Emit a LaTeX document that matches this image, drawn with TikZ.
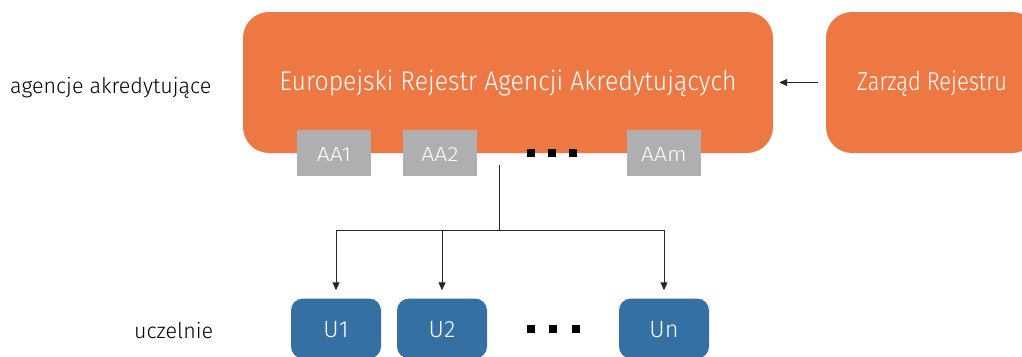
\documentclass[tikz,border=0pt]{standalone}
\usepackage{fontspec}
\setmainfont{Fira Sans}[UprightFont=* Light]
\newfontfamily\condA{Fira Sans}[UprightFont=* Light, FakeStretch=0.92]
\newfontfamily\condB{Fira Sans}[UprightFont=* Light, FakeStretch=0.84]
\newfontfamily\wideA{Fira Sans}[UprightFont=* Light, FakeStretch=1.12]
\usetikzlibrary{arrows.meta}
\definecolor{orng}{HTML}{EE7843}
\definecolor{gry}{HTML}{AFAFB1}
\definecolor{blu}{HTML}{3470A3}
\begin{document}
\begin{tikzpicture}[x=1pt,y=-1pt,
  obox/.style={fill=orng,draw=none,rounded corners=26pt},
  otxt/.style={text=white,inner sep=0pt,anchor=base},
  gbox/.style={fill=gry,draw=none,minimum width=74pt,minimum height=46pt},
  gtxt/.style={text=white,font=\wideA\fontsize{20.5}{24}\selectfont,inner sep=0pt,anchor=base},
  ubox/.style={fill=blu,draw=none,rounded corners=12pt,minimum width=90pt,minimum height=60pt},
  utxt/.style={text=white,font=\fontsize{23.5}{27}\selectfont,inner sep=0pt,anchor=base},
  lbl/.style={text=black,font=\fontsize{21.5}{26}\selectfont,inner sep=0pt,anchor=base west},
  dot/.style={fill=black,minimum size=8pt,inner sep=0pt,draw=none},
  conn/.style={draw=black!85,line width=1pt},
  tip/.style={-{Triangle[width=7pt,length=8pt]}}]
\useasboundingbox (0,0) rectangle (1022,356);
\begin{scope}
\clip (0,0) rectangle (1022,356);
\node[obox,minimum width=530pt,minimum height=141pt] (ear) at (508,82.5) {};
\node[otxt,font=\condA\fontsize{27}{32}\selectfont] (eart) at (508,90) {Europejski Rejestr Agencji Akredytujących};
\node[obox,minimum width=212pt,minimum height=141pt] (zr) at (932,82.5) {};
\node[otxt,font=\condB\fontsize{26}{31}\selectfont] (zrt) at (932,90) {Zarząd Rejestru};
\node[gbox] (aa1) at (334,153) {};
\node[gbox] (aa2) at (440,153) {};
\node[gbox] (aam) at (664,153) {};
\node[gtxt] (aa1t) at (334,161) {AA1};
\node[gtxt] (aa2t) at (440,161) {AA2};
\node[gtxt] (aamt) at (664,161) {AAm};
\node[dot] (d1) at (531,153) {};
\node[dot] (d2) at (552,153) {};
\node[dot] (d3) at (573,153) {};
\node[ubox] (u1) at (336,328.5) {};
\node[ubox] (u2) at (442,328.5) {};
\node[ubox] (un) at (664,328.5) {};
\node[utxt] (u1t) at (336,337) {U1};
\node[utxt] (u2t) at (442,337) {U2};
\node[utxt] (unt) at (664,337) {Un};
\node[dot] (e1) at (531,329) {};
\node[dot] (e2) at (553,329) {};
\node[dot] (e3) at (576,329) {};
\node[lbl] (l1) at (10,93) {agencje akredytujące};
\node[lbl] (l2) at (134,338) {uczelnie};
\coordinate (top) at (499,165);
\coordinate (j) at (499,230);
\draw[conn] (top) -- (j);
\draw[conn,tip,shorten >=8pt] (j) -| (u1.north);
\draw[conn,tip,shorten >=8pt] (j) -| (u2.north);
\draw[conn,tip,shorten >=8pt] (j) -| (un.north);
\draw[conn,tip,shorten >=6pt,shorten <=8pt] (zr.west) -- (ear.east);
\end{scope}
\end{tikzpicture}
\end{document}
